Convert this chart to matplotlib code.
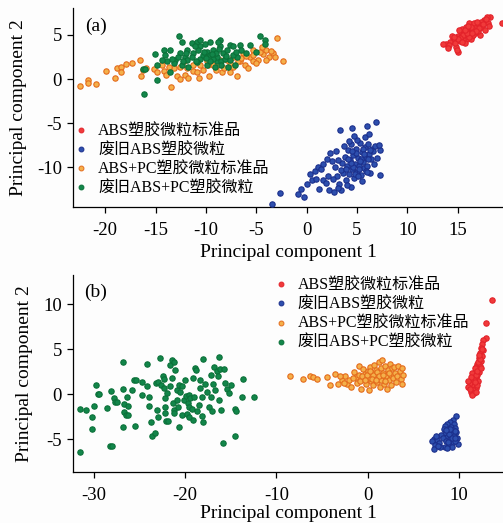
import numpy as np
import matplotlib
matplotlib.use("Agg")
import matplotlib.pyplot as plt
from matplotlib.lines import Line2D

plt.rcParams['font.family'] = ['Liberation Serif', 'Noto Sans CJK SC']
plt.rcParams['axes.unicode_minus'] = False

labels = ["ABS塑胶微粒标准品", "废旧ABS塑胶微粒", "ABS+PC塑胶微粒标准品", "废旧ABS+PC塑胶微粒"]
xlabel = "Principal component 1"
ylabel = "Principal component 2"

# ---------------- panel (a) ----------------
a_red = [(19.4,6.4),(18.2,7.0),(17.9,7.0),(17.6,6.7),(18.0,6.4),(17.3,6.5),(17.0,6.2),(16.8,6.0),(17.4,5.9),
         (16.5,5.9),(16.2,5.7),(16.9,5.6),(15.9,5.6),(16.4,5.4),(15.6,5.3),(16.7,5.2),(15.3,5.1),(16.0,5.0),
         (15.0,4.9),(16.4,4.9),(15.6,4.7),(14.8,4.6),(15.9,4.5),(14.5,4.4),(15.2,4.3),(14.2,4.2),(13.8,4.0),
         (13.5,4.0),(14.1,3.8),(14.8,3.6),(15.0,3.1),(14.9,3.3),(17.7,5.5),(17.2,5.0),(18.1,6.0),(15.4,5.7),
         (16.1,6.3),(16.6,6.4),(15.7,4.1),(14.4,4.9),(15.1,5.5),(16.3,4.5),(17.0,5.4),(15.8,5.9),(16.5,5.0),
         (15.5,4.5),(14.7,4.1),(16.0,5.3),(16.9,6.5),(17.8,6.8),(14.0,3.5),(15.3,4.8),(16.2,5.1),(15.8,5.5),
         (16.7,5.8),(16.1,4.8),(15.5,5.0),(16.6,5.5),(15.2,4.6),(16.3,5.9),(17.1,5.8),(15.9,5.2),(16.8,5.4),
         (15.7,5.6),(16.4,5.2),(15.0,4.5),(14.6,4.8),(17.5,6.2),(16.0,6.0),(15.4,4.2)]
a_blue = [(-3.4,-14.1),(-2.6,-12.9),(-0.9,-13.0),(-0.3,-13.4),(-0.6,-12.4),(0.0,-11.9),(0.5,-11.4),(0.3,-10.8),
          (0.8,-10.4),(1.1,-10.0),(1.4,-10.2),(1.6,-11.4),(2.2,-12.6),(2.3,-8.4),(3.3,-5.8),(4.5,-5.6),(6.0,-5.3),
          (6.9,-4.9),(7.3,-10.9),(3.4,-12.6),(2.7,-12.8),(4.4,-12.2),(2.5,-9.3),(2.8,-10.0),(3.0,-11.0),(3.2,-11.9),
          (3.5,-9.5),(3.6,-10.6),(3.8,-8.8),(3.9,-11.4),(4.0,-9.9),(4.1,-8.0),(4.2,-10.8),(4.3,-9.2),(4.4,-7.4),
          (4.5,-10.2),(4.6,-8.6),(4.7,-11.2),(4.8,-9.6),(4.9,-7.9),(5.0,-10.5),(5.1,-8.9),(5.2,-9.8),(5.3,-7.2),
          (5.4,-10.9),(5.5,-8.3),(5.6,-9.4),(5.7,-10.1),(5.8,-7.7),(5.9,-8.8),(6.0,-9.9),(6.1,-7.3),(6.2,-8.5),
          (6.3,-10.6),(6.4,-9.1),(6.5,-7.9),(6.6,-8.2),(6.8,-7.6),(7.0,-8.9),(7.3,-8.0),(7.2,-7.5),(5.0,-6.9),
          (5.8,-6.6),(4.7,-6.4),(6.2,-6.2),(4.2,-7.0),(3.7,-7.6),(2.9,-8.1),(1.6,-9.6),(2.0,-9.0),(3.1,-9.2),
          (4.6,-10.0),(5.2,-10.2),(5.9,-10.4),(6.0,-10.5),(4.4,-9.5),(5.4,-9.0),(4.9,-8.4),(3.4,-10.3),(2.6,-11.3),
          (1.9,-11.8),(3.1,-12.3),(2.1,-11.0),(0.9,-11.3),(1.2,-12.5),(5.5,-11.5),(4.0,-12.0),(6.7,-9.6),(6.3,-8.0),
          (5.6,-7.9),(4.8,-10.8),(5.3,-9.3),(4.1,-9.0),(3.9,-10.2),(5.7,-8.5),(6.1,-9.0),(4.5,-8.2),(5.1,-11.0)]
a_orange = [(-22.5,-0.75),(-21.7,-0.1),(-21.7,-0.5),(-20.9,-0.6),(-19.9,0.9),(-19.0,0.1),(-18.8,1.3),(-18.4,1.4),
            (-18.4,0.8),(-17.9,1.7),(-17.3,1.8),(-16.5,2.2),(-16.4,0.3),(-16.2,1.0),(-15.9,1.2),(-15.2,1.1),
            (-14.9,0.8),(-14.2,0.9),(-14.0,0.5),(-13.5,-0.9),(-12.9,0.3),(-12.6,0.0),(-12.1,0.5),(-11.8,0.1),
            (-11.3,0.9),(-10.7,0.1),(-10.3,1.0),(-9.7,0.3),(-9.0,1.0),(-8.4,0.8),(-7.3,1.4),(-6.9,0.3),(-6.6,2.0),
            (-6.1,1.6),(-5.6,2.5),(-5.3,3.3),(-4.8,2.2),(-4.3,2.8),(-4.0,3.3),(-3.7,2.5),(-3.3,3.0),(-3.1,2.5),
            (-2.9,4.6),(-2.3,2.0),(-5.3,2.0),(-5.8,1.2),(-7.6,1.8),(-8.6,2.2),(-9.3,1.6),(-9.9,2.0),(-10.6,1.6),
            (-11.3,1.6),(-11.9,1.2),(-12.6,1.4),(-13.2,1.2),(-13.7,1.4),(-14.4,1.6),(-5.3,2.7),(-6.3,2.9),
            (-7.3,2.5),(-7.9,2.1),(-8.8,1.6),(-10.1,2.5),(-4.6,3.1),(-4.0,2.2),(-6.8,2.0),(-7.6,0.8),(-10.9,0.8),
            (-9.8,1.6),(-6.5,2.4),(-5.0,1.8),(-8.2,1.2),(-12.2,2.0),(-4.4,3.6),(-3.5,3.2),(-6.0,2.6)]
a_green = [(-16.2,1.1),(-16.0,1.1),(-16.1,-1.7),(-14.9,-0.1),(-15.1,2.8),(-14.2,3.3),(-12.7,4.9),(-13.6,3.3),
           (-13.1,2.2),(-12.4,4.2),(-12.1,2.5),(-11.4,4.1),(-10.9,4.2),(-10.6,4.4),(-9.6,4.2),(-8.6,4.4),(-7.6,3.8),
           (-6.6,3.8),(-5.6,3.8),(-4.6,4.9),(-4.1,4.4),(-4.1,4.0),(-5.0,3.1),(-6.0,2.9),(-6.9,2.5),(-7.8,1.4),
           (-8.9,2.0),(-9.9,3.1),(-10.6,2.3),(-11.8,1.4),(-12.4,1.6),(-13.2,1.8),(-13.9,2.0),(-14.4,2.2),(-14.9,1.6),
           (-13.6,0.8),(-10.6,3.7),(-9.3,3.3),(-8.3,2.9),(-8.6,3.7),(-9.6,2.7),(-11.3,2.9),(-11.9,3.3),(-12.6,2.9),
           (-9.9,1.6),(-8.9,2.5),(-7.9,3.3),(-7.3,2.7),(-10.9,1.9),(-10.3,2.7),(-9.3,2.3),(-8.5,2.0),(-7.3,3.7),
           (-6.5,3.3),(-11.9,2.2),(-12.8,2.5),(-14.1,2.7),(-8.8,4.2),(-10.1,4.0),(-8.1,2.3),(-9.6,2.0),(-10.2,3.1),
           (-7.6,2.2),(-11.4,2.5),(-10.8,3.3),(-12.3,2.0),(-7.1,1.6),(-13.4,2.3),(-9.1,1.4),(-8.5,1.6),(-11.1,3.7),
           (-9.0,3.0),(-10.0,2.4),(-8.0,2.6),(-11.0,2.0),(-9.4,2.8),(-12.0,2.9),(-7.0,3.1),(-8.7,3.4)]

# ---------------- panel (b) ----------------
b_red = [(13.55,10.5),(12.9,7.9),(12.95,6.3),(12.6,6.0),(12.5,5.6),(12.4,5.2),(12.6,4.9),(12.3,4.6),(12.5,4.3),
         (12.2,4.0),(12.4,3.7),(12.0,3.4),(12.3,3.2),(11.9,3.0),(12.1,2.8),(11.8,2.6),(12.2,2.5),(11.7,2.3),
         (12.0,2.1),(11.6,2.0),(11.9,1.8),(11.5,1.6),(12.1,1.5),(11.4,1.3),(11.8,1.2),(11.2,1.1),(11.6,0.9),
         (11.0,0.8),(11.9,0.7),(11.5,0.5),(11.3,0.3),(11.6,0.1),(11.4,-0.1),(11.7,1.9),(12.1,3.6),(11.7,2.9),
         (11.4,2.4),(12.3,3.9),(11.9,2.2),(11.6,1.6),(11.3,1.9),(11.0,1.5),(12.0,1.0),(12.2,4.4),(12.5,5.0),
         (11.8,0.3),(11.2,0.6),(12.0,2.6),(11.7,1.4),(12.4,2.9)]
b_blue = [(9.65,-2.4),(9.3,-2.8),(9.0,-3.1),(8.7,-3.3),(9.4,-3.3),(8.5,-3.5),(9.1,-3.6),(9.6,-3.7),(8.8,-3.8),
          (8.3,-3.9),(9.3,-4.0),(8.9,-4.1),(9.7,-4.2),(8.5,-4.3),(9.1,-4.4),(8.0,-4.5),(9.4,-4.6),(8.7,-4.7),
          (9.8,-4.8),(8.2,-4.9),(9.0,-5.0),(7.3,-5.0),(7.6,-5.1),(8.6,-5.2),(9.3,-5.3),(7.0,-5.2),(7.8,-5.4),
          (9.9,-5.5),(8.9,-5.6),(7.4,-5.6),(8.4,-5.8),(9.2,-5.9),(7.2,-6.1),(7.9,-5.9),(8.7,-6.0),(9.5,-5.2),
          (9.6,-4.1),(8.9,-4.4),(9.2,-4.8),(8.8,-5.3),(9.0,-3.9),(9.5,-4.9),(8.6,-4.0),(7.5,-4.6),(7.7,-5.7)]
b_orange = [(-8.5,2.0),(-7.1,1.7),(-6.3,2.0),(-6.0,1.9),(-5.6,1.7),(-4.5,1.9),(-4.1,1.0),(-3.6,2.3),(-3.3,1.2),
            (-2.8,1.6),(-2.5,2.0),(-2.3,1.1),(-2.0,1.6),(-1.8,0.8),(-1.5,2.5),(-1.3,1.9),(-1.2,1.3),(-1.0,3.1),
            (-0.9,2.2),(-0.8,1.5),(-0.7,0.6),(-0.5,2.8),(-0.4,1.9),(-0.3,2.3),(-0.2,1.2),(0.0,2.6),(0.0,1.7),
            (0.1,0.5),(0.2,3.0),(0.3,2.1),(0.4,1.5),(0.5,2.4),(0.6,1.0),(0.7,3.3),(0.8,1.9),(0.9,2.7),(1.0,1.4),
            (1.1,2.2),(1.2,3.6),(1.3,0.8),(1.4,2.9),(1.5,1.8),(1.6,3.8),(1.7,2.4),(1.8,1.2),(1.9,3.2),(2.0,2.0),
            (2.1,0.6),(2.2,2.7),(2.3,1.6),(2.4,3.4),(2.5,2.2),(2.6,1.0),(2.7,2.9),(2.8,1.8),(2.9,3.0),(3.0,2.4),
            (3.1,1.4),(3.2,2.0),(3.3,3.1),(3.5,2.6),(3.6,1.7),(3.7,2.9),(3.8,1.2),(3.9,2.2),(-0.6,2.0),(0.2,1.8),
            (0.6,2.2),(1.0,2.5),(1.4,1.6),(-0.1,2.2),(1.9,1.5),(2.3,2.4),(0.5,1.7),(-1.6,1.8),(-2.6,1.3),(-3.0,2.0),
            (1.2,2.0),(1.7,2.1),(0.9,1.6),(0.3,2.6),(-0.3,1.6)]
b_green = [(-31.5,-1.6),(-31.5,-6.4),(-30.8,-1.7),(-30.2,-2.5),(-30.2,-3.9),(-29.9,-1.3),(-29.7,1.0),(-29.5,0.0),
           (-29.4,0.0),(-28.5,-1.5),(-28.2,-5.7),(-28.0,-5.7),(-28.1,0.4),(-27.8,-0.4),(-27.6,-0.9),(-27.4,-0.9),
           (-26.8,3.6),(-26.8,0.6),(-26.7,-1.1),(-26.7,-2.0),(-26.4,-2.3),(-26.2,-2.3),(-26.3,-0.3),(-26.8,-3.6),
           (-25.8,0.5),(-25.6,1.6),(-25.3,1.6),(-25.5,-3.5),(-26.2,-1.3),(-24.7,1.4),(-24.7,-0.1),(-24.1,0.9),
           (-24.2,3.4),(-23.9,-0.3),(-23.9,-1.3),(-23.7,-3.1),(-23.6,-4.6),(-23.3,-4.3),(-23.2,1.3),(-22.9,1.4),
           (-23.1,-1.7),(-22.9,-2.5),(-22.7,4.0),(-22.6,1.0),(-22.4,2.0),(-22.3,1.7),(-22.3,0.7),(-22.2,-0.4),
           (-22.2,-1.4),(-22.2,-2.1),(-22.1,-3.0),(-21.8,-3.0),(-22.0,0.1),(-21.6,0.9),(-21.6,3.3),(-21.4,3.8),
           (-21.2,3.6),(-21.4,1.8),(-21.3,-1.0),(-21.2,-1.7),(-21.2,-2.1),(-21.1,2.7),(-20.9,-0.6),(-20.9,0.5),
           (-20.8,-1.4),(-20.7,1.0),(-20.6,-3.6),(-20.5,0.3),(-20.3,0.9),(-20.3,-2.3),(-20.1,-0.6),(-20.0,1.6),
           (-19.9,-0.2),(-19.8,-2.2),(-19.7,-1.0),(-19.6,-1.4),(-19.5,-0.1),(-19.5,-2.5),(-19.4,-0.4),(-19.2,-1.6),
           (-19.1,1.8),(-19.1,-2.9),(-19.0,-0.3),(-18.9,2.9),(-18.8,2.7),(-18.7,-1.9),(-18.5,-1.2),(-18.4,0.7),
           (-18.3,1.6),(-18.1,-0.3),(-18.1,-2.4),(-18.0,3.9),(-18.0,-3.1),(-17.8,1.2),(-17.6,0.3),(-17.4,-1.4),
           (-17.2,2.1),(-17.1,-0.3),(-17.0,-1.9),(-16.9,1.2),(-16.8,3.0),(-16.7,0.5),(-16.5,2.6),(-16.4,2.0),
           (-16.3,4.1),(-16.3,-0.6),(-16.2,2.8),(-16.0,-1.7),(-15.8,-5.4),(-15.7,2.8),(-15.6,1.3),(-15.4,0.6),
           (-15.2,0.1),(-15.0,1.0),(-14.5,-4.6),(-14.5,-1.6),(-14.4,-1.9),(-13.7,-0.3),(-13.6,1.7),(-12.4,-0.3)]

colors_face = ['#f03a3a', '#2d4fae', '#f4b04a', '#12864a']
colors_edge = ['#e3222a', '#1b2f8c', '#e46b1c', '#0a7038']

fig = plt.figure(figsize=(5.03, 5.23), dpi=100)
fig.patch.set_facecolor('#fdfdfd')
axA = fig.add_axes([0.145, 0.604, 0.855, 0.381])
axB = fig.add_axes([0.145, 0.098, 0.855, 0.376])

def draw(ax, series, xlabelpad):
    for pts, fc, ec in zip(series, colors_face, colors_edge):
        arr = np.array(pts)
        ax.scatter(arr[:, 0], arr[:, 1], s=15, facecolor=fc, edgecolor=ec, linewidths=0.8, zorder=3)
    ax.set_facecolor('#fdfdfd')
    for s in ['top', 'right']:
        ax.spines[s].set_visible(False)
    for s in ['left', 'bottom']:
        ax.spines[s].set_linewidth(0.9)
    ax.tick_params(direction='out', length=4, width=0.9, labelsize=13.5, pad=4)
    ax.tick_params(axis='x', pad=7)
    ax.set_xlabel(xlabel, fontsize=14, labelpad=xlabelpad)
    ax.set_ylabel(ylabel, fontsize=14, labelpad=7)

draw(axA, [a_red, a_blue, a_orange, a_green], 3)
axA.set_xlim(-23.2, 19.5)
axA.set_ylim(-14.5, 8.06)
axA.set_xticks([-20, -15, -10, -5, 0, 5, 10, 15])
axA.set_yticks([-10, -5, 0, 5])
axA.text(0.028, 0.905, "(a)", transform=axA.transAxes, fontsize=14, va='center', ha='left')

draw(axB, [b_red, b_blue, b_orange, b_green], 0.5)
axB.set_xlim(-32.25, 14.8)
axB.set_ylim(-8.6, 13.26)
axB.set_xticks([-30, -20, -10, 0, 10])
axB.set_yticks([-5, 0, 5, 10])
axB.text(0.025, 0.914, "(b)", transform=axB.transAxes, fontsize=14, va='center', ha='left')

handles = [Line2D([], [], ls='none', marker='o', markersize=3.5, markerfacecolor=fc, markeredgecolor=ec,
                  markeredgewidth=0.7) for fc, ec in zip(colors_face, colors_edge)]
for ax, anchor in [(axA, (0.004, 0.418)), (axB, (0.4685, 0.985))]:
    ax.legend(handles, labels, loc='upper left', bbox_to_anchor=anchor, frameon=False, borderpad=0,
              borderaxespad=0, handlelength=0.8, handletextpad=0.66, labelspacing=0.19, fontsize=11.5)

fig.savefig("out.png", dpi=100, facecolor=fig.get_facecolor())
